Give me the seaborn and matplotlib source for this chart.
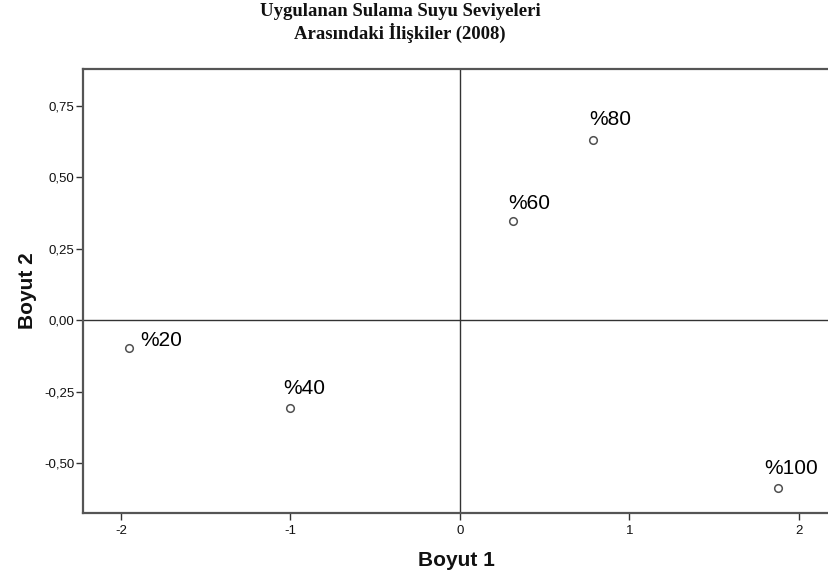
import matplotlib
matplotlib.use("Agg")
import matplotlib.pyplot as plt
import seaborn as sns
import pandas as pd

# ---- data ----
levels = ["%20", "%40", "%60", "%80", "%100"]
boyut1 = [-1.953, -1.003, 0.313, 0.785, 1.876]
boyut2 = [-0.098, -0.308, 0.346, 0.629, -0.587]
xticks = [-2, -1, 0, 1, 2]
xtick_labels = ["-2", "-1", "0", "1", "2"]
yticks = [-0.50, -0.25, 0.00, 0.25, 0.50, 0.75]
ytick_labels = ["-0,50", "-0,25", "0,00", "0,25", "0,50", "0,75"]
title = "Uygulanan Sulama Suyu Seviyeleri\nArasındaki İlişkiler (2008)"
xlabel = "Boyut 1"
ylabel = "Boyut 2"

df = pd.DataFrame({"level": levels, "b1": boyut1, "b2": boyut2})

sns.set_theme(style="white")
plt.rcParams["font.family"] = ["Liberation Sans", "DejaVu Sans"]

fig = plt.figure(figsize=(8.29, 5.76), dpi=100)
ax = fig.add_axes([83/829, 63/576, 746/829, 444/576])

sns.scatterplot(data=df, x="b1", y="b2", ax=ax, marker="o", s=30,
                facecolor="white", edgecolor="#505050", linewidth=1.1, zorder=3)

ax.axhline(0, color="#333333", lw=1.0, zorder=1)
ax.axvline(0, color="#333333", lw=1.0, zorder=1)

ax.set_xlim(-2.224, 2.177)
ax.set_ylim(-0.675, 0.879)

ax.set_xticks(xticks)
ax.set_xticklabels(xtick_labels)
ax.set_yticks(yticks)
ax.set_yticklabels(ytick_labels)

for side in ["left", "bottom", "top"]:
    ax.spines[side].set_color("#555555")
    ax.spines[side].set_linewidth(1.6)
ax.spines["right"].set_visible(False)

ax.tick_params(axis="both", which="major", direction="out", length=5, width=1.0,
               color="#333333", labelsize=9.5, labelcolor="#111111",
               bottom=True, left=True)
ax.tick_params(axis="x", pad=4)
ax.tick_params(axis="y", pad=1)

ax.set_xlabel(xlabel, fontsize=15, fontweight="bold", color="#111111", labelpad=10)
ax.set_ylabel(ylabel, fontsize=15, fontweight="bold", color="#111111", labelpad=5)

offsets = {"%20": (7.9, 5.8), "%40": (-5, 14.4), "%60": (-3.6, 13),
           "%80": (-2.9, 15.1), "%100": (-10, 13.7)}
for lab, x, y in zip(levels, boyut1, boyut2):
    ax.annotate(lab, (x, y), xytext=offsets[lab], textcoords="offset points",
                ha="left", va="center", fontsize=15, color="#000000")

fig.text(400/829, 1 - 23/576, title, ha="center", va="center",
         fontsize=13.5, fontweight="bold", family=["Liberation Serif", "DejaVu Serif"],
         linespacing=1.2, color="#111111")

fig.savefig("out.png", dpi=100)
